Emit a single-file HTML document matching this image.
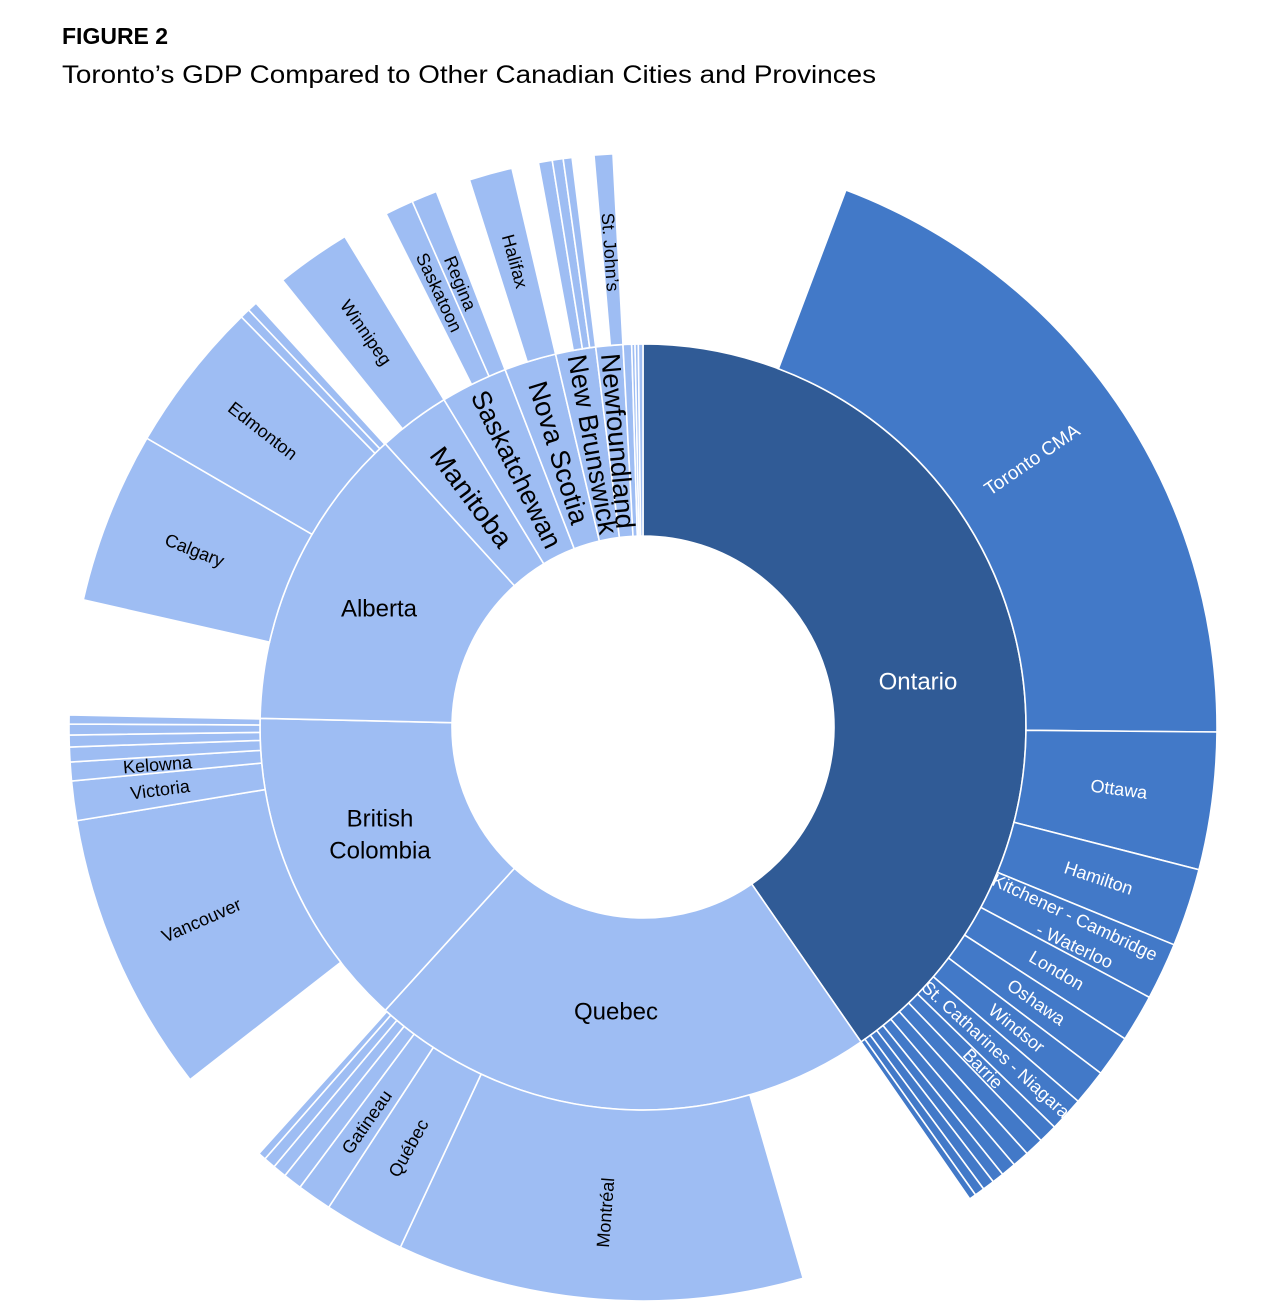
<!DOCTYPE html>
<html><head><meta charset="utf-8"><style>
html,body{margin:0;padding:0;background:#fff;}
svg{display:block;font-family:"Liberation Sans",Arial,sans-serif;}
</style></head><body>
<svg id="s" width="1280" height="1314" viewBox="0 0 1280 1314" xmlns="http://www.w3.org/2000/svg">
<text x="62" y="44" font-size="23" font-weight="bold" fill="#000">FIGURE 2</text>
<text x="62" y="83" font-size="25" fill="#000" textLength="814" lengthAdjust="spacingAndGlyphs">Toronto’s GDP Compared to Other Canadian Cities and Provinces</text>
<g id="g"></g>
</svg>
<script>
var cx=643,cy=727,R0=191,R1=383,R2=574;
var DK="#305B96",MD="#4279C8",LT="#9EBDF3";
var g=document.getElementById('g'),NS="http://www.w3.org/2000/svg";
function pt(r,t){var a=t*Math.PI/180;return [cx+r*Math.sin(a),cy-r*Math.cos(a)];}
function seg(r0,r1,t0,t1,col){
 var a=pt(r1,t0),b=pt(r1,t1),c=pt(r0,t1),d=pt(r0,t0),L=(t1-t0)>180?1:0;
 var p=document.createElementNS(NS,'path');
 p.setAttribute('d','M'+a+' A'+r1+' '+r1+' 0 '+L+' 1 '+b+' L'+c+' A'+r0+' '+r0+' 0 '+L+' 0 '+d+'Z');
 p.setAttribute('fill',col);p.setAttribute('stroke','#fff');p.setAttribute('stroke-width','1.6');
 g.appendChild(p);}
function lab(txt,r,t,rot,size,col,tl){
 var p=pt(r,t),e=document.createElementNS(NS,'text');
 e.setAttribute('x',p[0]);e.setAttribute('y',p[1]);
 e.setAttribute('text-anchor','middle');e.setAttribute('dominant-baseline','central');
 e.setAttribute('font-size',size);e.setAttribute('fill',col);
 if(tl){e.setAttribute('textLength',tl);e.setAttribute('lengthAdjust','spacingAndGlyphs');}
 e.setAttribute('transform','rotate('+rot+' '+p[0]+' '+p[1]+')');
 e.textContent=txt;g.appendChild(e);return e;}
var prov=[[0,145.3,DK],[145.3,222.3,LT],[222.3,271.3,LT],[271.3,317.7,LT],[317.7,328.7,LT],[328.7,338.9,LT],[338.9,346.8,LT],[346.8,352.9,LT],[352.9,357.0,LT],[357.0,358.3,LT],[358.3,358.8,LT],[358.8,359.3,LT],[359.3,360,LT]];
prov.forEach(function(s){seg(R0,R1,s[0],s[1],s[2]);});
var ont=[20.7,90.5,104.4,112.3,118.1,122.9,127.1,130.7,134.2,136.1,138.0,139.7,141.2,142.4,143.6,144.6,145.3];
for(var i=0;i<ont.length-1;i++)seg(R1,R2,ont[i],ont[i+1],MD);
var oth=[[163.8,205.0],[205.0,213.2],[213.2,216.7],[216.7,218.6],[218.6,220.0],[220.0,221.2],[221.2,222.0],
[232.1,260.6],[260.6,264.6],[264.6,266.5],[266.5,268.0],[268.0,269.2],[269.2,270.3],[270.3,271.2],
[282.8,300.2],[300.2,315.6],[315.6,316.6],[316.6,317.6],
[321.1,328.7],[333.4,336.3],[336.3,338.9],[342.4,346.8],[349.5,350.9],[350.9,352.0],[352.0,352.9],[355.1,357.0]];
oth.forEach(function(s){seg(R1,R2,s[0],s[1],LT);});
var t=lab('Ontario',0,0,0,24,'#fff');t.setAttribute('x',918);t.setAttribute('y',682);t.removeAttribute('transform');
t=lab('Quebec',0,0,0,24,'#000');t.setAttribute('x',616);t.setAttribute('y',1012);t.removeAttribute('transform');
t=lab('Alberta',0,0,0,24,'#000');t.setAttribute('x',379);t.setAttribute('y',609);t.removeAttribute('transform');
t=lab('British',0,0,0,24,'#000');t.setAttribute('x',380);t.setAttribute('y',819);t.removeAttribute('transform');
t=lab('Colombia',0,0,0,24,'#000');t.setAttribute('x',380);t.setAttribute('y',851);t.removeAttribute('transform');
function il(txt,t0,t1,tl){var m=(t0+t1)/2;lab(txt,287,m,m-270,27,'#000',tl);}
il('Manitoba',317.7,328.7,118);
il('Saskatchewan',328.7,338.9,172);
il('Nova Scotia',338.9,346.8,148);
il('New Brunswick',346.8,352.9,182);
il('Newfoundland',352.9,357.0,176);
function ol(txt,t0,t1,col,size,r){var m=(t0+t1)/2;var rot=(m<180)?m-90:m-270;return lab(txt,r||480,m,rot,size||18,col);}
ol('Toronto CMA',20.7,90.5,'#fff',19,472);
ol('Ottawa',90.5,104.4,'#fff');
ol('Hamilton',104.4,112.3,'#fff');
ol('London',118.1,122.9,'#fff');
ol('Oshawa',122.9,127.1,'#fff');
ol('Windsor',127.1,130.7,'#fff');
ol('St. Catharines - Niagara',130.7,134.2,'#fff',18,478);
ol('Barrie',134.2,136.1,'#fff',18,482);
(function(){var m=115.2;
 [['Kitchener - Cambridge',472,m-1.4],['- Waterloo',484,m+1.7]].forEach(function(a){lab(a[0],a[1],a[2],m-90,18,'#fff');});})();
ol('Montréal',163.8,205.0,'#000',18,487);
ol('Québec',205.0,213.2,'#000',18,482);
ol('Gatineau',213.2,216.7,'#000',18,482);
ol('Vancouver',232.1,260.6,'#000',18,482);
ol('Victoria',260.6,264.6,'#000',18,487);
ol('Kelowna',264.6,266.5,'#000',18,487);
ol('Calgary',282.8,300.2,'#000',18,482);
ol('Edmonton',300.2,315.6,'#000',18,482);
ol('Winnipeg',321.1,328.7,'#000',18,482);
ol('Saskatoon',333.4,336.3,'#000',18,480);
ol('Regina',336.3,338.9,'#000',18,480);
ol('Halifax',342.4,346.8,'#000',18,483);
ol('St. John’s',355.1,357.0,'#000',18,476);
</script>
</body></html>
